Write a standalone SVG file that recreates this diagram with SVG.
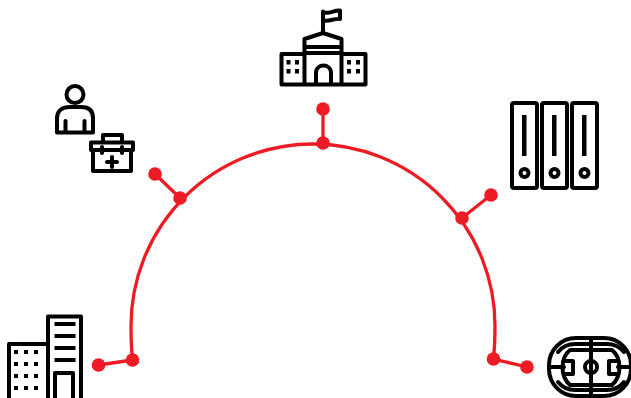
<svg xmlns="http://www.w3.org/2000/svg" width="631" height="398" viewBox="0 0 631 398">
<style>
.r{fill:none;stroke:#ed1c24;stroke-width:3.3}
.d{fill:#ed1c24}
.i{fill:none;stroke:#000;stroke-width:4;stroke-linejoin:round;stroke-linecap:round}
.b{fill:#000}
</style>
<rect width="631" height="398" fill="#fff"/>
<g id="connectors">
<path class="r" d="M132.500 360C131.500 350 131 338 131 326A182 182 0 0 1 495 326C495 338 494.500 349 493.500 359"/>
<path class="r" d="M323 109V143M155 174L180 198M491 195L462 218M98.500 365L132.500 360M527 367L493.500 359"/>
<circle class="d" cx="323" cy="109" r="6.800"/><circle class="d" cx="323" cy="143" r="6.800"/>
<circle class="d" cx="155" cy="174" r="6.800"/><circle class="d" cx="180" cy="198" r="6.800"/>
<circle class="d" cx="491" cy="195" r="6.800"/><circle class="d" cx="462" cy="218" r="6.800"/>
<circle class="d" cx="98.500" cy="365" r="6.800"/><circle class="d" cx="132.500" cy="360" r="6.800"/>
<circle class="d" cx="527" cy="367" r="6.800"/><circle class="d" cx="493.500" cy="359" r="6.800"/>
</g>
<g id="school">
<path class="i" d="M304 54H281.500V84.500H365.500V54H342M304.500 39V84.500M341.500 39V84.500M304.500 39L323 33L341.500 39M304.500 47H341.500M304.500 53H341.500M323 33V11.500M323 12C329 15 333 10 340 10.500V19C334 18 330 22 323 20.500M316 84.500V73C316 63 331 63 331 73V84.500"/>
<path class="b" d="M286.500 60h4v4.500h-4zM295 60h4v4.500h-4zM286.500 69h4v4.500h-4zM295 69h4v4.500h-4zM347 60h4v4.500h-4zM356 60h4v4.500h-4zM347 69h4v4.500h-4zM356 69h4v4.500h-4z"/>
</g>
<g id="person">
<circle class="i" cx="75" cy="94.500" r="8.500"/>
<path class="i" d="M57 132.500V118C57 110 63 107 70 107H81C88 107 93 110 93 118V132.500ZM65.500 121V132M84.500 121V132"/>
</g>
<g id="toolkit">
<path class="i" d="M103 142V135H122V142M91 142.500H133V150H91ZM93 150V171H131V150M102 147V153M122 147V153M112 157V167M107 162H117"/>
</g>
<g id="binders">
<rect class="i" x="512" y="103" width="25" height="85" rx="2"/><rect class="i" x="542" y="103" width="25" height="85" rx="2"/><rect class="i" x="572" y="103" width="25" height="85" rx="2"/>
<path class="b" d="M522 115h4.500v41h-4.500zM552 115h4.500v41h-4.500zM582 115h4.500v41h-4.500z"/>
<circle class="i" cx="524.500" cy="173" r="4"/><circle class="i" cx="554.500" cy="173" r="4"/><circle class="i" cx="584.500" cy="173" r="4"/>
</g>
<g id="buildings">
<path class="i" d="M48 344H9V402M48 402V316.500H81V402M55 402V373H73V402"/>
<path class="b" d="M54.500 322h21v4h-21zM54.500 334h21v4h-21zM54.500 346h21v4h-21zM54.500 358h21v4h-21z"/>
<path d="M14 352H44M14 364H44M14 376H44M14 388H44" stroke="#000" stroke-width="4" stroke-dasharray="4 6"/>
</g>
<g id="stadium">
<rect class="i" x="549" y="338" width="82" height="58" rx="27"/>
<path class="i" d="M591 338V396M549 367H564M618 367H631"/>
<path class="i" d="M570 350H612C622 358 622 376 612 385H570C560 376 560 358 570 350Z"/>
<path class="i" d="M558 352C562 347 568 344 575 344H607C614 344 620 347 624 352M558 382C562 387 568 390 575 390H607C614 390 620 387 624 382"/>
<path class="i" d="M565 361H573V374H565M617 361H609V374H617"/>
<circle class="i" cx="591" cy="367" r="6"/>
</g>
</svg>
